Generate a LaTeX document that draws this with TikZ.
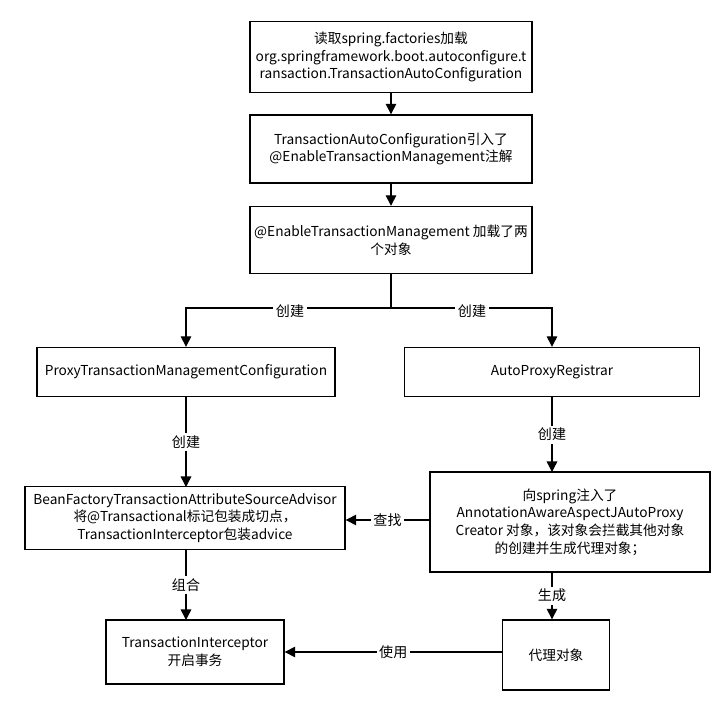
\documentclass[tikz,border=0pt]{standalone}
\usepackage{fontspec}
\setmainfont{Noto Sans CJK SC}
\usetikzlibrary{positioning, arrows.meta}

\tikzset{
  box/.style={draw, thick, fill=white, align=center, inner sep=0pt},
  lbl/.style={fill=white, inner sep=1.5pt, font=\fontsize{8}{10}\selectfont},
  flow/.style={-{Triangle[length=6pt,width=6pt]}, thick}
}

\begin{document}
\begin{tikzpicture}[x=0.02cm, y=-0.02cm, font=\fontsize{7.8}{10}\selectfont]
\useasboundingbox (0,0) rectangle (728,714);
% top chain
\node[box, minimum width=282*0.02cm, minimum height=71*0.02cm] (read) at (391,57)
  {读取spring.factories加载\\org.springframework.boot.autoconfigure.t\\ransaction.TransactionAutoConfiguration};
\node[box, minimum width=282*0.02cm, minimum height=68*0.02cm] (auto) at (391,149)
  {TransactionAutoConfiguration引入了\\@EnableTransactionManagement注解};
\node[box, minimum width=282*0.02cm, minimum height=67*0.02cm] (enable) at (391,240)
  {@EnableTransactionManagement 加载了两\\个对象};
% second row
\node[box, minimum width=298*0.02cm, minimum height=49*0.02cm] (ptmc) at (186,372)
  {ProxyTransactionManagementConfiguration};
\node[box, minimum width=295*0.02cm, minimum height=49*0.02cm] (apr) at (552,372)
  {AutoProxyRegistrar};
% third row
\node[box, minimum width=320*0.02cm, minimum height=63*0.02cm] (advisor) at (185,518)
  {BeanFactoryTransactionAttributeSourceAdvisor\\将@Transactional标记包装成切点，\\TransactionInterceptor包装advice};
\node[box, minimum width=280*0.02cm, minimum height=100*0.02cm] (creator) at (570,522)
  {向spring注入了\\AnnotationAwareAspectJAutoProxy\\Creator 对象，该对象会拦截其他对象\\的创建并生成代理对象；};
% bottom row
\node[box, minimum width=178*0.02cm, minimum height=64*0.02cm] (interceptor) at (195,652)
  {TransactionInterceptor\\开启事务};
\node[box, minimum width=107*0.02cm, minimum height=70*0.02cm] (proxy) at (556,655)
  {代理对象};
% connectors
\coordinate (split) at (391,308);
\draw[flow] (read) -- (auto);
\draw[flow] (auto) -- (enable);
\draw[thick] (enable) -- (split);
\draw[flow] (split) -| (ptmc.north);
\draw[flow] (split) -| (apr.north);
\node[lbl] (c1) at (290,311) {创建};
\node[lbl] (c2) at (472,311) {创建};
\draw[flow] (ptmc) -- node[lbl] {创建} (186,487);
\draw[flow] (apr.south) -- node[lbl] {创建} (552,472);
\draw[flow] (creator.west |- 0,520) -- node[lbl] {查找} (advisor.east |- 0,520);
\draw[flow] (552,572) -- node[lbl] {生成} (proxy.north -| 552,0);
\draw[flow] (186,550) -- node[lbl] {组合} (186,620);
\draw[flow] (proxy.west |- 0,652) -- node[lbl] {使用} (interceptor.east |- 0,652);
\end{tikzpicture}
\end{document}
